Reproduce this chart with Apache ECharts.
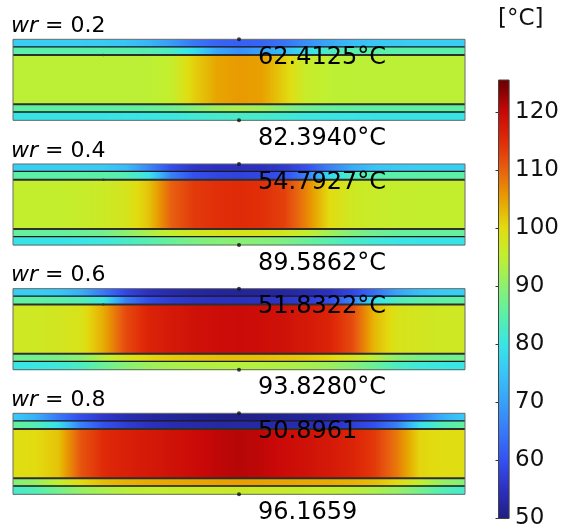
<!DOCTYPE html>
<html><head><meta charset="utf-8">
<script src="https://cdn.jsdelivr.net/npm/echarts@6/dist/echarts.min.js"></script>
<style>html,body{margin:0;padding:0;background:#fff}#c{width:562px;height:530px}</style>
</head><body><div id="c"></div>
<script>
// ---------------- data ----------------
const positions = [0,5,10,15,20,25,30,35,40,45,50,55,60,65,70,75,80,85,90,95,100];
const wrValues = ['0.2','0.4','0.6','0.8'];
const topProbeLabels = ['62.4125°C','54.7927°C','51.8322°C','50.8961'];
const bottomProbeLabels = ['82.3940°C','89.5862°C','93.8280°C','96.1659'];
const colorbarTicks = [50,60,70,80,90,100,110,120];
const colorbarMin = 50, colorbarMax = 125.5;

// wr = 0.2
const wr02TopChannel = [76.5,76.5,76.5,76.3,76,75,73,69.5,65,62.5,62,62.5,64.5,68,71,74,75.5,76,76.5,76.5,76.5];
const wr02TopWall    = [85,85,85,85,85,85,84.5,83,79,71,68,70,74,79,83,84.5,85,85,85,85,85];
const wr02Core       = [94.5,94.5,94.5,94.5,94.5,94.5,94.6,95.5,101,104.5,105.5,105,101,96,94.8,94.5,94.5,94.5,94.5,94.5,94.5];
const wr02BotWall    = [85.5,85.5,85.5,85.5,85.5,85.7,86,87,89,91.5,92.5,91.5,89,87,86,85.7,85.5,85.5,85.5,85.5,85.5];
const wr02BotChannel = [79.5,79.5,79.5,79.5,79.6,79.8,80,80.5,81.3,82,82.4,82,81.3,80.5,80,79.8,79.6,79.5,79.5,79.5,79.5];
// wr = 0.4
const wr04TopChannel = [76.5,76.5,76.5,76.3,76,74,67,59.5,56,55,54.8,55,56.5,60,66,71.5,75,76,76.5,76.5,76.5];
const wr04TopWall    = [85,85,85,85,85,84,80,66,60,58.5,58,58.5,60,66,78,83,84.5,85,85,85,85];
const wr04Core       = [95.5,95.5,95.5,95.8,96.5,98,102,110,113.5,114.5,115,114.5,113,107,100,97,96,95.6,95.5,95.5,95.5];
const wr04BotWall    = [86,86,86,86.5,87.5,90,93,96,97.5,98.3,98.5,98.3,97.5,95.5,92,89,87,86.3,86,86,86];
const wr04BotChannel = [79.5,79.5,79.5,80,80.8,82.5,84.5,86.5,88.3,89.3,89.6,89.3,88.3,86.5,84.5,82.5,81,80,79.6,79.5,79.5];
// wr = 0.6
const wr06TopChannel = [76.5,76.5,75.5,72,65,58.5,55,53.5,52.5,52,51.8,52,52.5,53.5,55,58.5,64,70.5,74.5,76,76.5];
const wr06TopWall    = [85.5,85.5,85,84,81,66,59.5,57,55.8,55.2,55,55.2,55.8,57,59.5,66,79,83.5,85,85.5,85.5];
const wr06Core       = [97,97,97.5,98.5,104,112,116,117.5,118.5,119.2,119.5,119.2,118.5,117.5,116,112,103,98.5,97.5,97,97];
const wr06BotWall    = [87,87.3,88,90,94,98,100.5,101.5,102,102.5,102.5,102.5,102,101.5,100.5,98,94,90,88,87.3,87];
const wr06BotChannel = [80,80.3,81,83,86.5,89.5,91.5,92.7,93.3,93.7,93.8,93.7,93.3,92.7,91.5,89.5,86.5,83,81,80.3,80];
// wr = 0.8
const wr08TopChannel = [76,72,65,59.5,56,54,52.8,52,51.5,51,50.9,51,51.5,52,52.8,54,56,59.5,65,72,76];
const wr08TopWall    = [86,84,79,66,60,57,55,54,53.3,53,52.8,53,53.3,54,55,57,60,66,79,84,86];
const wr08Core       = [99.5,100,102,111,115,116.5,117.5,118.5,119.5,120.5,121,120.5,119.5,118.5,117.5,116,113.5,108,100.5,99.7,99.5];
const wr08BotWall    = [89,91,95,100,102.5,103.5,104,104.3,104.6,104.8,105,104.8,104.6,104.3,104,103.5,102.5,100,95,91,89];
const wr08BotChannel = [82,84,87.5,91,93,94.3,95,95.5,95.9,96.1,96.2,96.1,95.9,95.5,95,94.3,93,91,87.5,84,82];

// colour scale (rainbow), evenly spaced from 50 to 125
const paletteColors = ['#1e1e80','#2c30c0','#3450f0','#3878f8','#38a0f8','#38c4f8','#38e6e6','#5af0a8',
  '#8cf070','#c0f030','#e2dc10','#e8a000','#e86010','#e02a08','#c80808','#6e0000'];
const paletteMin = 50, paletteMax = 125;

// ---------------- build ----------------
const panels = [
  [wr02BotChannel, wr02BotWall, wr02Core, wr02TopWall, wr02TopChannel],
  [wr04BotChannel, wr04BotWall, wr04Core, wr04TopWall, wr04TopChannel],
  [wr06BotChannel, wr06BotWall, wr06Core, wr06TopWall, wr06TopChannel],
  [wr08BotChannel, wr08BotWall, wr08Core, wr08TopWall, wr08TopChannel]
];
const LAYER_Y = [[0,8.3],[8.3,16],[16,65.2],[65.2,73.5],[73.5,81]];
const PANEL_H = 81;
const panelTop = i => 39.3 + i * 124.67;
const FONT = 'DejaVu Sans';

function colorOf(v) {
  let t = (v - paletteMin) / (paletteMax - paletteMin);
  t = Math.max(0, Math.min(1, t));
  return echarts.color.lerp(t, paletteColors);
}

function layerRender(profiles) {
  return function (params, api) {
    const L = api.value(0);
    const prof = profiles[L];
    const b = LAYER_Y[L];
    const tl = api.coord([positions[0], b[1]]);
    const br = api.coord([positions[positions.length - 1], b[0]]);
    const x0 = positions[0], span = positions[positions.length - 1] - positions[0];
    const stops = [];
    const SUB = 4;
    for (let k = 0; k < positions.length - 1; k++) {
      for (let s = 0; s < SUB; s++) {
        const f = s / SUB;
        const x = positions[k] + (positions[k + 1] - positions[k]) * f;
        const v = prof[k] + (prof[k + 1] - prof[k]) * f;
        stops.push({ offset: (x - x0) / span, color: colorOf(v) });
      }
    }
    stops.push({ offset: 1, color: colorOf(prof[prof.length - 1]) });
    return {
      type: 'rect',
      shape: { x: tl[0], y: tl[1], width: br[0] - tl[0], height: br[1] - tl[1] + 0.5 },
      style: { fill: new echarts.graphic.LinearGradient(0, 0, 1, 0, stops) }
    };
  };
}

function linesRender(params, api) {
  const children = [];
  const defs = [[8.3, '#1a1a1a', 1.3], [16, '#2e2e2e', 2], [65.2, '#2e2e2e', 2], [73.5, '#1a1a1a', 1.3]];
  defs.forEach(d => {
    const a = api.coord([0, d[0]]), b = api.coord([100, d[0]]);
    children.push({ type: 'line', shape: { x1: a[0], y1: a[1], x2: b[0], y2: b[1] },
      style: { stroke: d[1], lineWidth: d[2] } });
  });
  const tl = api.coord([0, PANEL_H]), br = api.coord([100, 0]);
  children.push({ type: 'rect', shape: { x: tl[0], y: tl[1], width: br[0] - tl[0], height: br[1] - tl[1] },
    style: { fill: null, stroke: '#6a6a6a', lineWidth: 1 } });
  return { type: 'group', children };
}

const grids = [], xAxes = [], yAxes = [], series = [], graphics = [];
panels.forEach((profiles, i) => {
  const top = panelTop(i);
  grids.push({ left: 13, top: top, width: 452, height: PANEL_H });
  xAxes.push({ type: 'value', gridIndex: i, min: 0, max: 100, show: false });
  yAxes.push({ type: 'value', gridIndex: i, min: 0, max: PANEL_H, show: false });
  series.push({ type: 'custom', xAxisIndex: i, yAxisIndex: i, renderItem: layerRender(profiles),
    data: [[0, 0], [1, 0], [2, 0], [3, 0], [4, 0]], silent: true, z: 1 });
  series.push({ type: 'custom', xAxisIndex: i, yAxisIndex: i, renderItem: linesRender,
    data: [[0, 0]], silent: true, z: 2 });
  const dots = [[50, PANEL_H], [50, 0]];
  const small = i === 3 ? [[20, 65.2], [80.3, 65.2]] : [[20, 65.2]];
  series.push({ type: 'scatter', xAxisIndex: i, yAxisIndex: i, data: dots, symbolSize: 4,
    itemStyle: { color: '#111' }, clip: false, silent: true, z: 3 });
  series.push({ type: 'scatter', xAxisIndex: i, yAxisIndex: i, data: small, symbolSize: 2.5,
    itemStyle: { color: '#333' }, clip: false, silent: true, z: 3 });

  graphics.push({ type: 'text', x: 11, y: top - 13, z: 10,
    style: { text: '{i|wr} = ' + wrValues[i], fontSize: 22, fontFamily: FONT, fill: '#000',
      verticalAlign: 'middle', textVerticalAlign: 'middle',
      rich: { i: { fontStyle: 'italic', fontSize: 22, fontFamily: FONT, fill: '#000' } } } });
  graphics.push({ type: 'text', x: 258, y: top + 18.6, z: 10,
    style: { text: topProbeLabels[i], fontSize: 24, fontFamily: FONT, fill: '#000',
      verticalAlign: 'middle', textVerticalAlign: 'middle' } });
  graphics.push({ type: 'text', x: 258, y: top + PANEL_H + 18.3, z: 10,
    style: { text: bottomProbeLabels[i], fontSize: 24, fontFamily: FONT, fill: '#000',
      verticalAlign: 'middle', textVerticalAlign: 'middle' } });
});

// colour bar
grids.push({ left: 498.5, top: 80, width: 12.5, height: 438.5 });
xAxes.push({ type: 'value', gridIndex: 4, min: 0, max: 1, show: false });
yAxes.push({ type: 'value', gridIndex: 4, min: colorbarMin, max: colorbarMax, position: 'right', interval: 10,
  axisLine: { show: false }, splitLine: { show: false },
  axisTick: { show: true, inside: true, length: 3, customValues: colorbarTicks, lineStyle: { color: '#333', width: 1 } },
  axisLabel: { customValues: colorbarTicks, hideOverlap: false, fontSize: 23, fontFamily: FONT, color: '#111', margin: 6 } });
yAxes.push({ type: 'value', gridIndex: 4, min: colorbarMin, max: colorbarMax, position: 'left', interval: 10,
  axisLine: { show: false }, splitLine: { show: false }, axisLabel: { show: false },
  axisTick: { show: true, inside: true, length: 3, customValues: colorbarTicks, lineStyle: { color: '#333', width: 1 } } });
series.push({ type: 'custom', xAxisIndex: 4, yAxisIndex: 4, silent: true, z: 1, data: [[0, colorbarMin]],
  renderItem: function (params, api) {
    const tl = api.coord([0, colorbarMax]), br = api.coord([1, colorbarMin]);
    const stops = [];
    const N = 60;
    for (let s = 0; s <= N; s++) {
      const v = colorbarMax - (colorbarMax - colorbarMin) * s / N;
      stops.push({ offset: s / N, color: colorOf(v) });
    }
    return { type: 'rect', shape: { x: tl[0], y: tl[1], width: br[0] - tl[0], height: br[1] - tl[1] },
      style: { fill: new echarts.graphic.LinearGradient(0, 0, 0, 1, stops), stroke: '#444', lineWidth: 1 } };
  } });
graphics.push({ type: 'text', x: 498, y: 19, z: 10,
  style: { text: '[°C]', fontSize: 23, fontFamily: FONT, fill: '#111', verticalAlign: 'middle', textVerticalAlign: 'middle' } });

const chart = echarts.init(document.getElementById('c'), null, { renderer: 'canvas' });
chart.setOption({
  animation: false,
  backgroundColor: '#fff',
  grid: grids, xAxis: xAxes, yAxis: yAxes, series: series, graphic: graphics
});
</script></body></html>
